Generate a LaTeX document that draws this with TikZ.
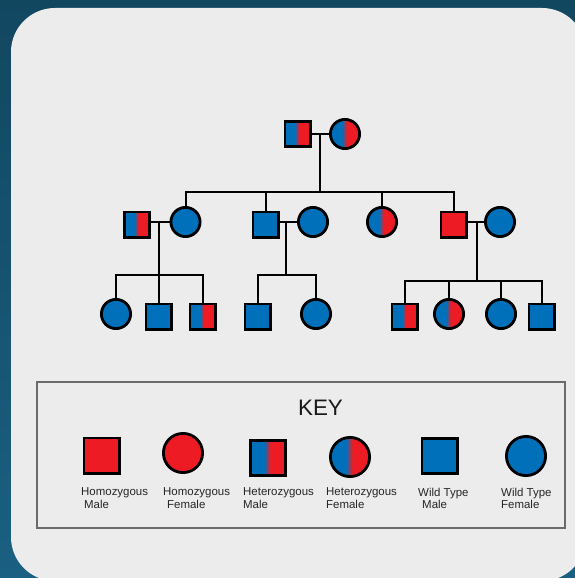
\documentclass[tikz,border=0pt]{standalone}
\usepackage{fontspec}
\setmainfont{Liberation Sans}
\definecolor{pred}{HTML}{ED1C24}
\definecolor{pblue}{HTML}{0070BA}
\definecolor{panelc}{HTML}{ECECEC}
\definecolor{bgtop}{HTML}{124760}
\definecolor{bgbot}{HTML}{1A6082}
\definecolor{keyline}{HTML}{6B6B6B}
\pgfdeclarehorizontalshading{hetshade}{100bp}{color(0bp)=(pblue); color(25bp)=(pblue); color(45bp)=(pblue); color(53bp)=(pred); color(75bp)=(pred); color(100bp)=(pred)}
\tikzset{
  sq/.style={rectangle, draw=black, line width=2.8bp, minimum size=25.2bp, inner sep=0pt},
  ci/.style={circle, draw=black, line width=2.8bp, minimum size=29.2bp, inner sep=0pt},
  ksq/.style={rectangle, draw=black, line width=2.8bp, minimum size=35.2bp, inner sep=0pt},
  kci/.style={circle, draw=black, line width=2.8bp, minimum size=39.2bp, inner sep=0pt},
  hom/.style={fill=pred},
  wt/.style={fill=pblue},
  het/.style={shading=hetshade},
  conn/.style={draw=black, line width=2bp},
  klabel/.style={anchor=north west, inner sep=0pt, align=left, font=\fontsize{11.5}{12.8}\selectfont, text=black!85}
}
\begin{document}
\begin{tikzpicture}[x=1bp, y=-1bp]
\useasboundingbox (0,0) rectangle (575,578);
% background
\shade[top color=bgtop, bottom color=bgbot] (0,0) rectangle (575,578);
\fill[panelc, rounded corners=44bp] (11,8) rectangle (586,581);
% key box
\draw[keyline, line width=1.5bp] (37,382) rectangle (565,528);

% ---------- generation 1 ----------
\node[sq, het] (g1m) at (297.5,134) {};
\node[ci, het] (g1f) at (345,134) {};
\coordinate (c1) at (320,134);
\coordinate (s1) at (320,192);

% ---------- generation 2 ----------
\node[sq, het] (h1) at (137,224.5) {};
\node[ci, wt] (w1) at (185.5,222) {};
\node[sq, wt] (m2) at (265.5,224.5) {};
\node[ci, wt] (w2) at (313,222) {};
\node[ci, het] (f3) at (382,222) {};
\node[sq, hom] (m4) at (453.5,224.5) {};
\node[ci, wt] (w4) at (500,222) {};

\coordinate (c2) at (159,222);
\coordinate (c3) at (286,222);
\coordinate (c4) at (477,222);
\coordinate (s2) at (159,275);
\coordinate (s3) at (286,275);
\coordinate (s4) at (477,281);

% ---------- generation 3 ----------
\node[ci, wt] (a1) at (116,314) {};
\node[sq, wt] (a2) at (158.5,316.5) {};
\node[sq, het] (a3) at (202.5,316.5) {};
\node[sq, wt] (b1) at (257.5,316.5) {};
\node[ci, wt] (b2) at (316,314) {};
\node[sq, het] (d1) at (404.5,316.5) {};
\node[ci, het] (d2) at (449,314) {};
\node[ci, wt] (d3) at (501,314) {};
\node[sq, wt] (d4) at (541.5,316.5) {};

% ---------- connectors ----------
\draw[conn] (g1m.east) -- (g1f.west);
\draw[conn] (c1) -- (s1);
\draw[conn] (w1.north) |- (s1) -| (m4.north);
\draw[conn] (m2.north) -- (m2.north |- s1);
\draw[conn] (f3.north) -- (f3.north |- s1);

\draw[conn] (h1.east |- w1) -- (w1.west);
\draw[conn] (m2.east |- w2) -- (w2.west);
\draw[conn] (m4.east |- w4) -- (w4.west);

\draw[conn] (c2) -- (s2);
\draw[conn] (c3) -- (s3);
\draw[conn] (c4) -- (s4);

\draw[conn] (a1.north) |- (s2) -| (a3.north);
\draw[conn] (a2.north) -- (a2.north |- s2);
\draw[conn] (b1.north) |- (s3) -| (b2.north);
\draw[conn] (d1.north) |- (s4) -| (d4.north);
\draw[conn] (d2.north) -- (d2.north |- s4);
\draw[conn] (d3.north) -- (d3.north |- s4);

% ---------- key ----------
\node[inner sep=0pt, font=\fontsize{22.5}{26}\selectfont, text=black!90] (keyt) at (320.5,408) {KEY};
\node[ksq, hom] (k1) at (101.5,455.5) {};
\node[kci, hom] (k2) at (183,453) {};
\node[ksq, het] (k3) at (268,458) {};
\node[kci, het] (k4) at (350,457) {};
\node[ksq, wt] (k5) at (439.5,456) {};
\node[kci, wt] (k6) at (526,456) {};

\node[klabel] (l1) at (81,487.5) {Homozygous\\\hspace*{3bp}Male};
\node[klabel] (l2) at (163,487.5) {Homozygous\\\hspace*{4bp}Female};
\node[klabel] (l3) at (243,487.5) {Heterozygous\\Male};
\node[klabel] (l4) at (326,487.5) {Heterozygous\\Female};
\node[klabel] (l5) at (418,487.5) {Wild Type\\\hspace*{4bp}Male};
\node[klabel] (l6) at (501,487.5) {Wild Type\\Female};
\end{tikzpicture}
\end{document}
